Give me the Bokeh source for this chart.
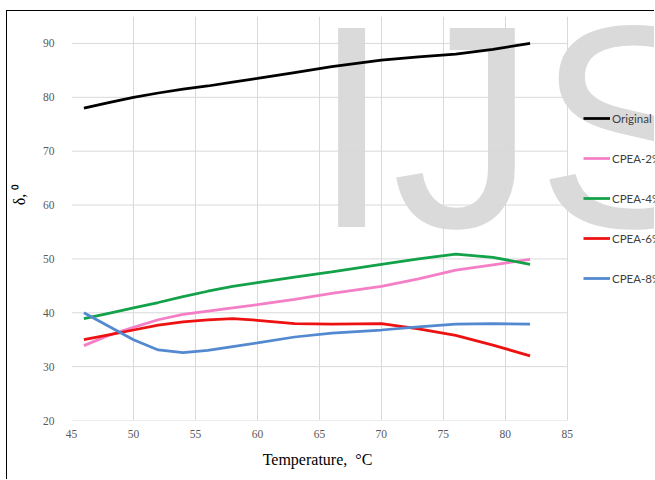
from bokeh.plotting import figure
from bokeh.models import FixedTicker, Legend
from bokeh.core.properties import value
from bokeh.embed import file_html
from bokeh.resources import INLINE

temps = [46, 48, 50, 52, 54, 56, 58, 60, 63, 66, 70, 73, 76, 79, 82]
original = [78.0, 79.0, 80.0, 80.8, 81.5, 82.1, 82.8, 83.5, 84.6, 85.7, 86.9, 87.5, 88.0, 88.9, 90.0]
cpea2 = [33.9, 35.8, 37.3, 38.7, 39.7, 40.3, 40.9, 41.5, 42.5, 43.6, 44.9, 46.3, 47.9, 48.9, 49.9]
cpea4 = [38.9, 39.9, 40.9, 41.9, 43.0, 44.0, 44.9, 45.6, 46.6, 47.6, 49.0, 50.0, 50.9, 50.3, 49.0]
cpea6 = [35.0, 35.9, 36.8, 37.7, 38.3, 38.7, 38.9, 38.6, 38.0, 37.9, 38.0, 37.0, 35.8, 34.0, 32.0]
cpea8 = [40.0, 37.5, 35.0, 33.1, 32.6, 33.0, 33.7, 34.4, 35.5, 36.2, 36.8, 37.4, 37.9, 38.0, 37.9]

series_names = ["Original", "CPEA-2%", "CPEA-4%", "CPEA-6%", "CPEA-8%"]
series_values = [original, cpea2, cpea4, cpea6, cpea8]
colors = ["#000000", "#f47fc6", "#13a14a", "#ee1111", "#5389d0"]

x_ticks = [45, 50, 55, 60, 65, 70, 75, 80, 85]
y_ticks = [20, 30, 40, 50, 60, 70, 80, 90]

p = figure(width=648, height=469, x_range=(45, 92.12), y_range=(20, 95),
           output_backend="svg", toolbar_location=None,
           min_border_left=59, min_border_right=0, min_border_top=5, min_border_bottom=60)
p.styles = {"margin-left": "6px", "margin-top": "10px",
            "border-left": "1px solid black", "border-top": "1px solid black"}
p.outline_line_color = None

# watermark
p.text(x=[64.36], y=[74.6], text=["IJS"], text_font=value("Liberation Sans"),
       text_font_size="289px", text_color="#dadada", text_baseline="alphabetic",
       text_align="left", level="image")

# horizontal gridlines limited to the plotting area (45..85)
p.segment(x0=[x_ticks[0]] * len(y_ticks), x1=[x_ticks[-1]] * len(y_ticks),
          y0=y_ticks, y1=y_ticks, line_color="#d9d9d9", line_width=1, level="underlay")

items = []
for name, vals, c in zip(series_names, series_values, colors):
    r = p.line(temps, vals, line_color=c, line_width=2.75)
    items.append((name, [r]))

legend = Legend(items=items, location=(512, 132), padding=0, margin=0,
                glyph_width=27, glyph_height=20, label_height=20, spacing=20,
                label_standoff=2, border_line_color=None, background_fill_alpha=0,
                label_text_font="Lato", label_text_font_size="11.5px",
                label_text_color="#404040")
p.add_layout(legend, "center")

for ax in (p.xaxis[0], p.yaxis[0]):
    ax.axis_line_color = None
    ax.major_tick_line_color = None
    ax.minor_tick_line_color = None
    ax.major_label_text_font = "Liberation Serif"
    ax.major_label_text_font_size = "11.5px"
    ax.major_label_text_color = "#595959"
    ax.axis_label_text_font = "Liberation Serif"
    ax.axis_label_text_font_style = "normal"
    ax.axis_label_text_color = "#000000"

p.xaxis.ticker = FixedTicker(ticks=x_ticks)
p.xaxis.bounds = (45, 85)
p.yaxis.ticker = FixedTicker(ticks=y_ticks)
p.xaxis.major_label_standoff = 3
p.yaxis.major_label_standoff = 11
p.xaxis.axis_label = "Temperature,\u00a0 \u00b0C" + "\u00a0" * 23
p.xaxis.axis_label_text_font_size = "16px"
p.xaxis.axis_label_standoff = 10
p.yaxis.axis_label = "\u00a0" * 12 + "\u03b4, \u2070"
p.yaxis.axis_label_text_font_size = "16px"
p.yaxis.axis_label_standoff = 12

p.xgrid.grid_line_color = "#d9d9d9"
p.xgrid.ticker = FixedTicker(ticks=x_ticks)
p.ygrid.grid_line_color = None

open("out.html", "w").write(file_html(p, INLINE))
